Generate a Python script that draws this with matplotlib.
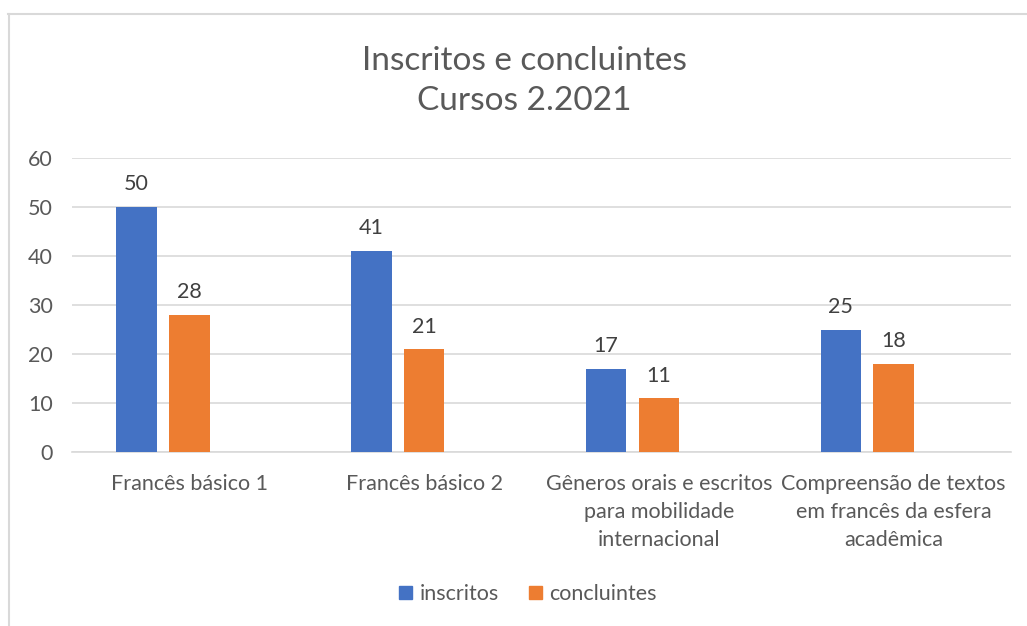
import matplotlib
matplotlib.use("Agg")
import matplotlib.pyplot as plt
from matplotlib.lines import Line2D
from matplotlib.patches import Patch
import numpy as np

plt.rcParams['font.family'] = ['Lato', 'DejaVu Sans']

categories = ["Francês básico 1", "Francês básico 2",
              "Gêneros orais e escritos\npara mobilidade\ninternacional",
              "Compreensão de textos\nem francês da esfera\nacadêmica"]
inscritos = [50, 41, 17, 25]
concluintes = [28, 21, 11, 18]
series_names = ["inscritos", "concluintes"]
colors = ["#4472C4", "#ED7D31"]
yticks = [0, 10, 20, 30, 40, 50, 60]
title = "Inscritos e concluintes\nCursos 2.2021"

W, H = 1027, 626
fig = plt.figure(figsize=(W / 100, H / 100), dpi=100)
ax = fig.add_axes([72 / W, 1 - 452.3 / H, (1011 - 72) / W, (452.3 - 157.7) / H])

FS = 15.5
x = np.arange(len(categories))
width = 0.173
offsets = [-0.2245, 0.0]
text_color = "#595959"
for vals, off, col in zip([inscritos, concluintes], offsets, colors):
    bars = ax.bar(x + off, vals, width, color=col, zorder=3)
    for b, v in zip(bars, vals):
        ax.annotate(str(v), (b.get_x() + b.get_width() / 2, v), xytext=(0, 9),
                    textcoords="offset points", ha="center", va="bottom",
                    fontsize=FS, color="#404040")

ax.set_xlim(-0.5, len(categories) - 0.5)
ax.set_ylim(0, 60)
ax.set_yticks(yticks)
ax.set_yticklabels([str(t) for t in yticks], fontsize=FS, color=text_color)
ax.set_xticks(x)
ax.set_xticklabels(categories, fontsize=FS, color=text_color, linespacing=1.5, va="top")
ax.tick_params(axis="both", length=0)
ax.tick_params(axis="y", pad=14)
ax.tick_params(axis="x", pad=15.5)
ax.grid(axis="y", color="#D9D9D9", linewidth=1.2, zorder=0)
for s in ["top", "right", "left"]:
    ax.spines[s].set_visible(False)
ax.spines["bottom"].set_color("#D9D9D9")
ax.spines["bottom"].set_linewidth(1.2)

fig.text(524 / W, 1 - 81 / H, title, ha="center", va="center", fontsize=24,
         color=text_color, linespacing=1.45)

handles = [Patch(facecolor=c, edgecolor=c) for c in colors]
fig.legend(handles, series_names, loc="center", bbox_to_anchor=(528 / W, 1 - 594 / H),
           ncol=2, frameon=False, fontsize=FS, handlelength=0.6, handleheight=0.6,
           handletextpad=0.35, columnspacing=1.4, labelcolor=text_color)

# chart border (top and left visible)
fig.add_artist(Line2D([8 / W, 1.0], [1 - 13.5 / H, 1 - 13.5 / H], color="#D9D9D9", linewidth=1.5))
fig.add_artist(Line2D([8.5 / W, 8.5 / W], [0, 1 - 13.5 / H], color="#D9D9D9", linewidth=1.5))

fig.savefig("out.png", dpi=100, facecolor="white")
